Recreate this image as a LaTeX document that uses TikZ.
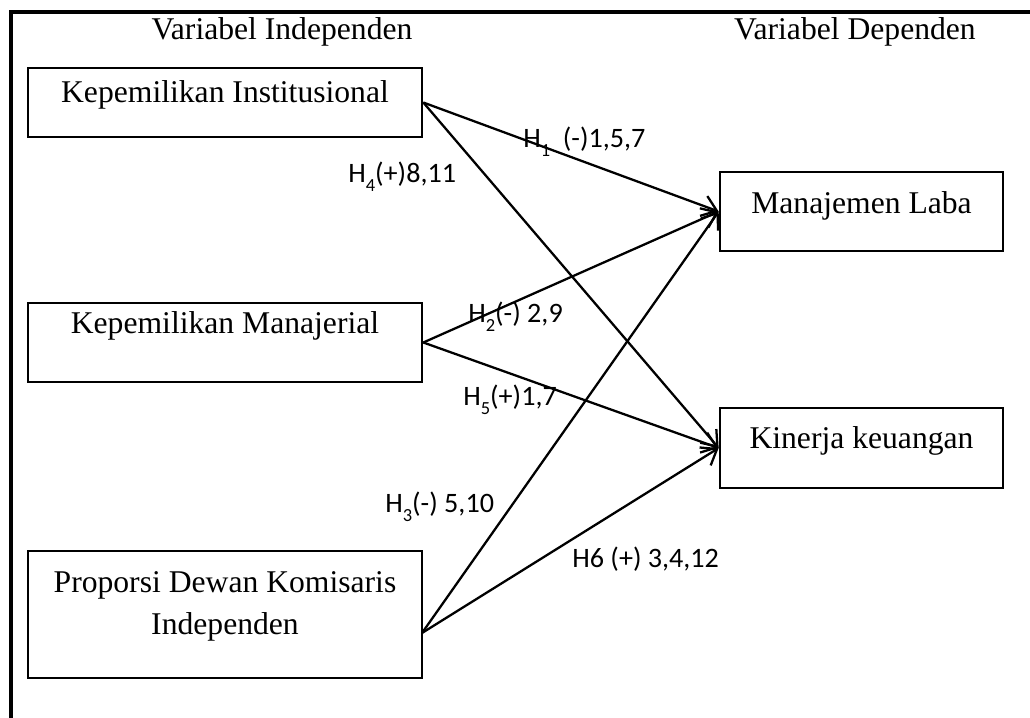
\documentclass[tikz,border=0pt]{standalone}
\usepackage{fontspec}
\setmainfont{Liberation Serif}
\newfontfamily\calibri{Carlito}
\usetikzlibrary{arrows.meta}
\newcommand{\hsub}[1]{\raisebox{-5.5pt}{\fontsize{10.5}{10}\selectfont #1}}

\begin{document}
\begin{tikzpicture}[scale=0.2]
\tikzstyle{every node}+=[inner sep=0pt]
\tikzstyle{varbox}=[draw=black, line width=1.5pt, minimum width=7.88cm, align=center, font=\fontsize{18}{23.9}\selectfont, text height=13pt]
\tikzstyle{head}=[font=\fontsize{18}{23.9}\selectfont, text height=11.9pt, text depth=0pt]
\tikzstyle{hyp}=[anchor=base west, font=\calibri\fontsize{16}{19}\selectfont]
\tikzstyle{link}=[black, line width=1.3pt, -{Straight Barb[length=8pt,width=12pt,line width=1.3pt]}]
\useasboundingbox (0,0) rectangle (103,-71.8);
\draw [black, line width=2.6pt] (1.1,-71.8) -- (1.1,-1.2) -- (103,-1.2);
\draw (28.2,-2.9) node [head] (hind) {Variabel Independen};
\draw (85.5,-2.9) node [head] (hdep) {Variabel Dependen};
\draw (22.5,-10.25) node [varbox, minimum height=1.38cm, text depth=13.2pt] (inst) {Kepemilikan Institusional};
\draw (22.5,-34.25) node [varbox, minimum height=1.58cm, text depth=22.8pt] (man) {Kepemilikan Manajerial};
\draw (22.5,-61.45) node [varbox, minimum height=2.54cm, text height=37pt, text depth=14.2pt] (prop) {Proporsi Dewan Komisaris\\Independen};
\draw (86.15,-21.15) node [varbox, minimum width=5.66cm, minimum height=1.58cm, text depth=10.8pt] (laba) {Manajemen Laba};
\draw (86.15,-44.8) node [varbox, minimum width=5.66cm, minimum height=1.6cm, text depth=12pt] (kin) {Kinerja keuangan};
\coordinate (p3) at (42.2,-63.3);
\draw [link] (inst.east) -- (laba.west);
\draw [link] (inst.east) -- (kin.west);
\draw [link] (man.east) -- (laba.west);
\draw [link] (man.east) -- (kin.west);
\draw [link] (p3) -- (laba.west);
\draw [link] (p3) -- (kin.west);
\draw (52.3,-14.7) node [hyp] (h1) {H\hsub{1}\ \ (-)1,5,7};
\draw (34.8,-18.2) node [hyp] (h4) {H\hsub{4}(+)8,11};
\draw (46.8,-32.2) node [hyp] (h2) {H\hsub{2}(-) 2,9};
\draw (46.3,-40.5) node [hyp] (h5) {H\hsub{5}(+)1,7};
\draw (38.5,-51.2) node [hyp] (h3) {H\hsub{3}(-) 5,10};
\draw (57.2,-56.7) node [hyp] (h6) {H6 (+) 3,4,12};
\end{tikzpicture}
\end{document}
